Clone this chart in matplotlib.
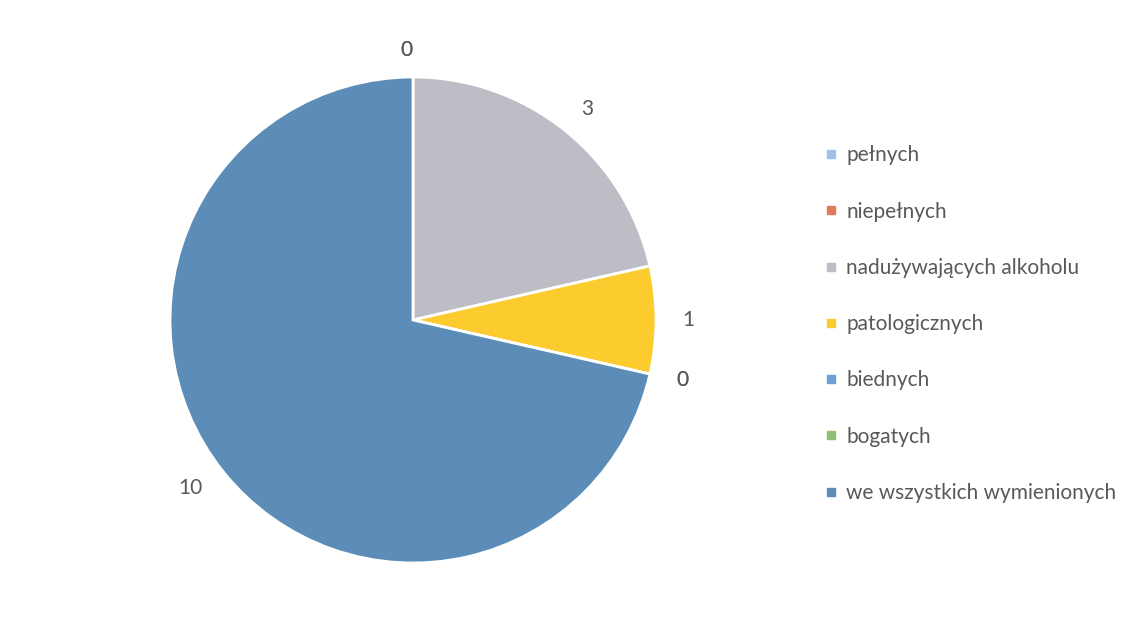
import matplotlib.pyplot as plt
from matplotlib.lines import Line2D

plt.rcParams['font.family'] = ['Lato', 'DejaVu Sans']

categories = ["pełnych", "niepełnych", "nadużywających alkoholu", "patologicznych",
              "biednych", "bogatych", "we wszystkich wymienionych"]
values = [0, 0, 3, 1, 0, 0, 10]
colors = ["#9dc3e6", "#e07b5a", "#bdbdc5", "#fccb2e", "#6f9fd8", "#8fbf70", "#5b8db8"]
text_color = "#595959"

fig = plt.figure(figsize=(11.39, 6.29), dpi=100)

# pie axes: centre (413, 320) px, radius 243 px
W, H = 1139, 629
cx, cy, r = 413, 320, 243
ax = fig.add_axes([(cx - r) / W, (H - cy - r) / H, 2 * r / W, 2 * r / H])

wedges, texts = ax.pie(values, colors=colors, labels=[str(v) for v in values],
                       startangle=90, counterclock=False, labeldistance=1.11,
                       wedgeprops=dict(edgecolor="white", linewidth=2),
                       textprops=dict(color=text_color, fontsize=15))
ax.set_xlim(-1, 1)
ax.set_ylim(-1, 1)
ax.set_aspect("equal")
for t in texts:
    t.set_clip_on(False)

handles = [Line2D([0], [0], marker="s", linestyle="none", markersize=6,
                  markerfacecolor=c, markeredgecolor=c) for c in colors]
leg = fig.legend(handles, categories, loc="upper left",
                 bbox_to_anchor=(816 / W, 1 - 137 / H), frameon=False,
                 fontsize=15, labelspacing=1.74, handlelength=0.6,
                 handletextpad=0.45, borderaxespad=0)
for t in leg.get_texts():
    t.set_color(text_color)

fig.savefig("out.png", dpi=100)
